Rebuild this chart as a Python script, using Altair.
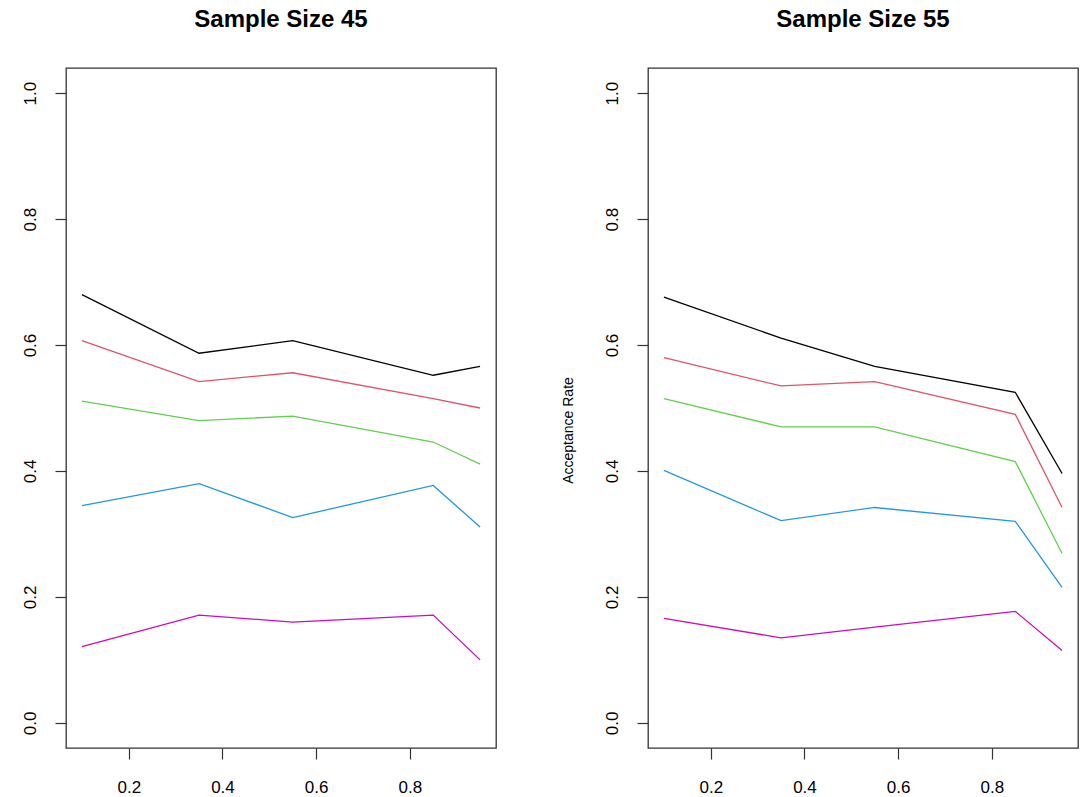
import altair as alt
import pandas as pd

x_vals = [0.1, 0.35, 0.55, 0.85, 0.95]
series_names = ["s1", "s2", "s3", "s4", "s5"]
series_colors = ["#000000", "#DF536B", "#61D04F", "#2297E6", "#CD0BBC"]

# Sample size 45
n45_s1 = [0.680, 0.587, 0.607, 0.552, 0.566]
n45_s2 = [0.607, 0.542, 0.556, 0.515, 0.500]
n45_s3 = [0.511, 0.480, 0.487, 0.446, 0.411]
n45_s4 = [0.345, 0.380, 0.326, 0.377, 0.311]
n45_s5 = [0.121, 0.171, 0.160, 0.171, 0.100]

# Sample size 55
n55_s1 = [0.676, 0.611, 0.566, 0.525, 0.396]
n55_s2 = [0.580, 0.535, 0.542, 0.490, 0.342]
n55_s3 = [0.515, 0.470, 0.470, 0.415, 0.269]
n55_s4 = [0.401, 0.321, 0.342, 0.320, 0.215]
n55_s5 = [0.166, 0.135, 0.152, 0.177, 0.115]

x_ticks = [0.2, 0.4, 0.6, 0.8]
y_ticks = [0.0, 0.2, 0.4, 0.6, 0.8, 1.0]

FONT = "Liberation Sans"


def make_df(series_list):
    rows = []
    for name, vals in zip(series_names, series_list):
        for x, y in zip(x_vals, vals):
            rows.append({"series": name, "x": x, "y": y})
    return pd.DataFrame(rows)


df45 = make_df([n45_s1, n45_s2, n45_s3, n45_s4, n45_s5])
df55 = make_df([n55_s1, n55_s2, n55_s3, n55_s4, n55_s5])


def panel(df, title, ytitle):
    if ytitle:
        yaxis = alt.Axis(values=y_ticks, format=".1f", labelAngle=270,
                         labelAlign="center", labelBaseline="alphabetic",
                         labelPadding=20, tickSize=11, title=ytitle,
                         titleAngle=270, titleAlign="center",
                         titleBaseline="alphabetic", titleX=-76, titleY=362,
                         titleFontSize=14, titleFontWeight="normal",
                         titleFont=FONT, titleColor="#000000")
    else:
        yaxis = alt.Axis(values=y_ticks, format=".1f", labelAngle=270,
                         labelAlign="center", labelBaseline="alphabetic",
                         labelPadding=20, tickSize=11, title=None)
    return alt.Chart(df).mark_line(strokeWidth=1.3).encode(
        x=alt.X("x:Q", scale=alt.Scale(domain=[0.066, 0.984], nice=False, zero=False),
                axis=alt.Axis(values=x_ticks, format=".1f", tickSize=11,
                              labelPadding=20, labelBaseline="top", title=None)),
        y=alt.Y("y:Q", scale=alt.Scale(domain=[-0.04, 1.04], nice=False, zero=False),
                axis=yaxis),
        color=alt.Color("series:N", scale=alt.Scale(domain=series_names, range=series_colors),
                        legend=None),
        order="x:Q",
    ).properties(
        width=430, height=680,
        title=alt.TitleParams(title, fontSize=24, fontWeight="bold", font=FONT,
                              anchor="middle", baseline="alphabetic", offset=17,
                              color="#000000"),
    )


left = panel(df45, "Sample Size 45", None)
right = panel(df55, "Sample Size 55", "Acceptance Rate")

chart = alt.hconcat(left, right, spacing=152, bounds="flush").properties(
    padding={"left": 20, "top": 7, "right": 5, "bottom": 0}
).configure_view(
    stroke="#333333", strokeWidth=1.3
).configure_axis(
    grid=False, domain=False, labelFont=FONT, labelFontSize=17,
    labelColor="#000000", tickColor="#333333", tickWidth=1.2,
    titleFont=FONT, titleFontSize=14, titleFontWeight="normal"
)

chart.save("out.html", embed_options={"renderer": "svg", "actions": False})
